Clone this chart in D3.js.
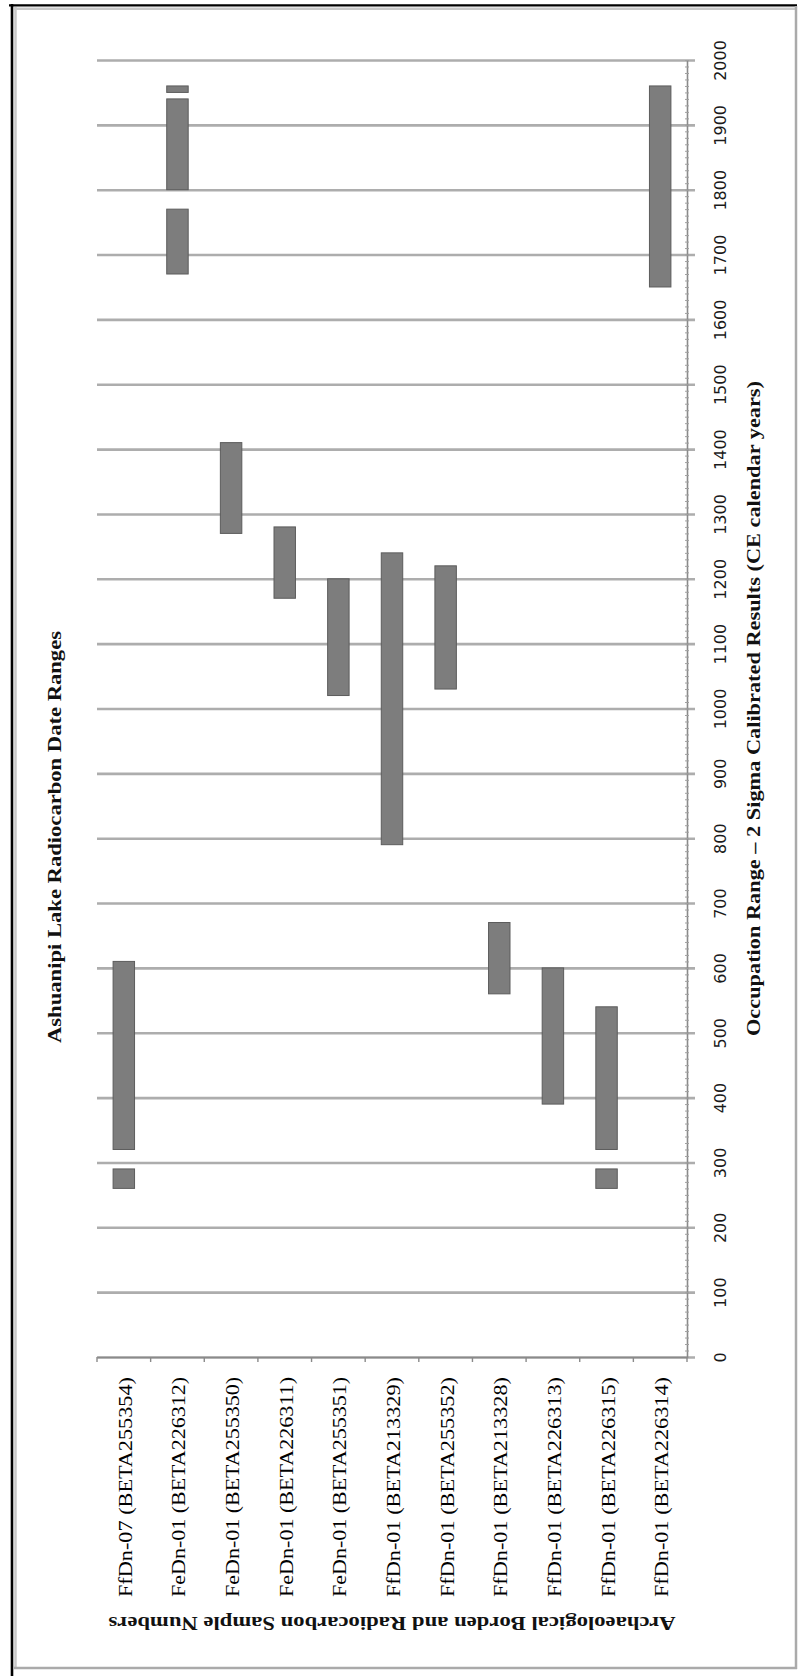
<!DOCTYPE html>
<html>
<head>
<meta charset="utf-8">
<script src="https://cdn.jsdelivr.net/npm/d3@7"></script>
<style>
  html, body { margin: 0; padding: 0; background: #fff; }
  svg { display: block; }
</style>
</head>
<body>
<svg id="chart" width="801" height="1676"></svg>
<script>
// ---- data ----
const categories = [
  "FfDn-07 (BETA255354)",
  "FeDn-01 (BETA226312)",
  "FeDn-01 (BETA255350)",
  "FeDn-01 (BETA226311)",
  "FeDn-01 (BETA255351)",
  "FfDn-01 (BETA213329)",
  "FfDn-01 (BETA255352)",
  "FfDn-01 (BETA213328)",
  "FfDn-01 (BETA226313)",
  "FfDn-01 (BETA226315)",
  "FfDn-01 (BETA226314)"
];
// calibrated ranges (CE years), one entry per bar segment
const rangeCategory = [0, 0, 1, 1, 1, 2, 3, 4, 5, 6, 7, 8, 9, 9, 10];
const rangeFrom     = [260, 320, 1670, 1800, 1950, 1270, 1170, 1020, 790, 1030, 560, 390, 260, 320, 1650];
const rangeTo       = [290, 610, 1770, 1940, 1960, 1410, 1280, 1200, 1240, 1220, 670, 600, 290, 540, 1960];
const valueTicks = [0, 100, 200, 300, 400, 500, 600, 700, 800, 900, 1000, 1100, 1200, 1300, 1400, 1500, 1600, 1700, 1800, 1900, 2000];
const chartTitle = "Ashuanipi Lake Radiocarbon Date Ranges";
const valueTitle = "Occupation Range \u2013 2 Sigma Calibrated Results (CE calendar years)";
const categoryTitle = "Archaeological Borden and Radiocarbon Sample Numbers";

// ---- layout ----
const svg = d3.select("#chart");
const plotLeft = 97, plotRight = 687, plotTop = 60, plotBottom = 1357;

const y = d3.scaleLinear().domain([0, 2000]).range([plotBottom, plotTop]);
const x = d3.scaleBand().domain(categories).range([plotLeft, plotRight])
  .paddingInner(0.6).paddingOuter(0.3);

const serif = "'Liberation Serif', 'Times New Roman', Times, serif";
const sans = "'DejaVu Sans', Verdana, sans-serif";

// frame
const frame = svg.append("g");
frame.append("line").attr("x1", 9).attr("x2", 797).attr("y1", 5.3).attr("y2", 5.3)
  .attr("stroke", "#000").attr("stroke-width", 2.2);
frame.append("line").attr("x1", 12).attr("x2", 12).attr("y1", 4).attr("y2", 1676)
  .attr("stroke", "#000").attr("stroke-width", 2.6);
frame.append("line").attr("x1", 14).attr("x2", 796).attr("y1", 8.7).attr("y2", 8.7)
  .attr("stroke", "#c8c8c8").attr("stroke-width", 2.5);
frame.append("line").attr("x1", 15.5).attr("x2", 15.5).attr("y1", 7).attr("y2", 1668)
  .attr("stroke", "#c8c8c8").attr("stroke-width", 2.5);
frame.append("line").attr("x1", 796).attr("x2", 796).attr("y1", 6).attr("y2", 1669)
  .attr("stroke", "#aaaaaa").attr("stroke-width", 2.5);
frame.append("line").attr("x1", 14).attr("x2", 797).attr("y1", 1668).attr("y2", 1668)
  .attr("stroke", "#aaaaaa").attr("stroke-width", 2.5);

// gridlines (extend past the value axis as major ticks)
const grid = svg.append("g").attr("transform", `translate(695,0)`)
  .call(d3.axisLeft(y).tickValues(valueTicks).tickSize(695 - plotLeft).tickFormat(""));
grid.select(".domain").remove();
grid.selectAll(".tick line").attr("stroke", "#adadad").attr("stroke-width", 2.6);

// bars
svg.append("g").selectAll("rect")
  .data(rangeFrom.map((f, i) => ({ c: categories[rangeCategory[i]], from: f, to: rangeTo[i] })))
  .join("rect")
  .attr("x", d => x(d.c))
  .attr("width", x.bandwidth())
  .attr("y", d => y(d.to))
  .attr("height", d => y(d.from) - y(d.to))
  .attr("fill", "#7d7d7d")
  .attr("stroke", "#5c5c5c")
  .attr("stroke-width", 1);

// value axis line with minor ticks
const vAxis = svg.append("g").attr("transform", `translate(${plotRight},0)`);
vAxis.call(d3.axisRight(y).ticks(200).tickSize(2).tickSizeOuter(0).tickFormat(""));
vAxis.select(".domain").attr("stroke", "#8a8a8a").attr("stroke-width", 1.6);
vAxis.selectAll(".tick line").attr("stroke", "#a0a0a0").attr("x1", -2).attr("x2", 2).attr("stroke-width", 1);

// value tick labels (rotated)
const vLabels = svg.append("g").attr("transform", `translate(${plotRight},0)`)
  .call(d3.axisRight(y).tickValues(valueTicks).tickSize(0).tickFormat(d3.format("d")));
vLabels.select(".domain").remove();
vLabels.selectAll(".tick text")
  .attr("x", null).attr("dy", null)
  .attr("transform", "translate(39,0) rotate(-90)")
  .attr("text-anchor", "middle")
  .attr("font-family", sans).attr("font-size", 16).attr("fill", "#1a1a1a");

// category axis
const cAxis = svg.append("g").attr("transform", `translate(0,${plotBottom})`)
  .call(d3.axisBottom(x).tickSize(0).tickSizeOuter(0));
cAxis.select(".domain").attr("stroke", "#8a8a8a").attr("stroke-width", 1.6);
cAxis.selectAll(".tick text")
  .attr("y", null).attr("dy", null)
  .attr("transform", "translate(8,20) rotate(-90)")
  .attr("text-anchor", "end")
  .attr("textLength", 220).attr("lengthAdjust", "spacingAndGlyphs")
  .attr("font-family", serif).attr("font-size", 19).attr("fill", "#000");
// category boundary ticks
const bounds = d3.range(categories.length + 1).map(i => plotLeft + i * x.step());
svg.append("g").selectAll("line").data(bounds).join("line")
  .attr("x1", d => d).attr("x2", d => d)
  .attr("y1", plotBottom).attr("y2", plotBottom + 5)
  .attr("stroke", "#8a8a8a").attr("stroke-width", 1.4);

// titles
svg.append("text")
  .attr("transform", `translate(61,${(631 + 1043) / 2}) rotate(-90)`)
  .attr("text-anchor", "middle")
  .attr("textLength", 412).attr("lengthAdjust", "spacingAndGlyphs")
  .attr("font-family", serif).attr("font-weight", "bold").attr("font-size", 19)
  .attr("fill", "#111")
  .text(chartTitle);

svg.append("text")
  .attr("transform", `translate(760,${(plotTop + plotBottom) / 2}) rotate(-90)`)
  .attr("text-anchor", "middle")
  .attr("textLength", 655).attr("lengthAdjust", "spacingAndGlyphs")
  .attr("font-family", serif).attr("font-weight", "bold").attr("font-size", 19)
  .attr("fill", "#111")
  .text(valueTitle);

svg.append("text")
  .attr("transform", `translate(${(plotLeft + plotRight) / 2},1617) rotate(180)`)
  .attr("text-anchor", "middle")
  .attr("textLength", 567).attr("lengthAdjust", "spacingAndGlyphs")
  .attr("font-family", serif).attr("font-weight", "bold").attr("font-size", 19)
  .attr("fill", "#111")
  .text(categoryTitle);
</script>
</body>
</html>
